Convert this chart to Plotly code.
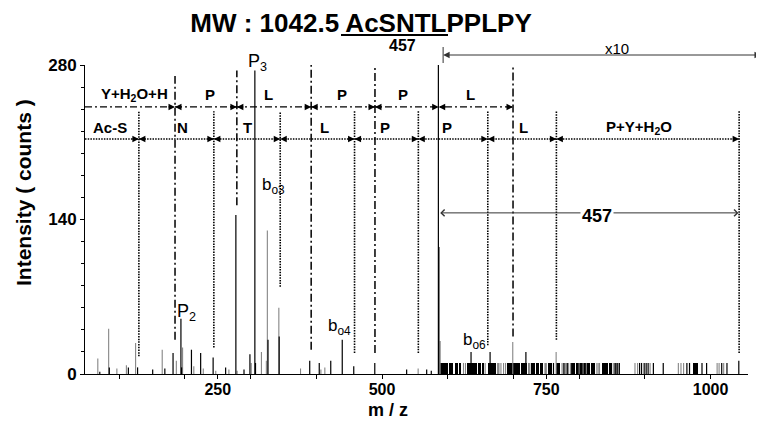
import plotly.graph_objects as go

# ---------------- data ----------------
# main-scale peaks: m/z and intensity (counts)
black_mz = [70.5, 85, 114, 128, 151, 169.5, 182, 194, 195, 210, 224, 243, 262, 277.6, 290, 299,
            306.5, 307.5, 326.5, 343.5, 390, 404.5, 422, 439.5, 457, 489, 537.5, 568, 575, 585.8, 586.6]
black_int = [2, 6, 6, 6, 4, 5, 19, 50, 6, 22, 19, 15, 6, 144, 4, 18,
             275, 10, 31, 34, 12, 10, 12, 31, 7, 10, 4, 4, 3, 280, 115]
gray_mz = [67.5, 84, 96.5, 111, 125, 165.5, 187, 196.5, 213.6, 228, 247, 267, 279.5, 301, 316.5,
           324, 325.5, 343, 376, 407, 413, 555, 588.5]
gray_int = [14, 41, 5, 8, 28, 22, 12, 24, 7, 5, 3, 4, 3, 10, 20,
            12, 130, 60, 5, 4, 6, 5, 30]

# x10 region (m/z > 586): isolated lines
x10_black_mz = [635.5, 664.5, 719, 761, 777, 855, 858, 892, 895, 899, 902, 905, 913, 928, 964, 968,
                987, 994, 1017, 1025, 1043]
x10_black_int = [20, 20, 20, 10, 10, 10, 10, 10, 10, 10, 10, 10, 10, 10, 10, 10,
                 10, 10, 10, 10, 12]
x10_gray_mz = [624, 627, 657, 676, 677, 678, 681, 685, 688, 699, 723, 724, 725, 748, 749, 750, 765,
               774, 776, 779, 781, 784, 787, 800, 806, 811, 827, 829, 831, 852, 854, 857, 860, 885,
               889, 908, 951, 955, 959, 1010, 1013, 1020]
x10_gray_int = [10, 10, 10, 10, 10, 10, 10, 10, 10, 29, 10, 10, 10, 10, 10, 10, 20,
                10, 10, 10, 10, 10, 10, 10, 10, 10, 10, 10, 10, 10, 10, 10, 10, 10,
                10, 10, 10, 10, 10, 10, 10, 10]
# x10 region: unresolved clusters of lines (m/z start, m/z end, height)
cluster_start = [589, 603, 611, 617, 630, 641, 647, 653, 662, 691, 712, 718, 728, 736, 741, 753,
                 765, 782, 788, 796, 819, 835, 847, 861, 974]
cluster_end = [600, 608, 615, 620, 639, 644, 650, 655, 673, 710, 715, 720, 733, 738, 744, 758,
               771, 783, 793, 816, 824, 844, 849, 862, 981]
cluster_int = [10, 10, 10, 10, 10, 10, 10, 10, 10, 10, 10, 10, 10, 10, 10, 10,
               10, 10, 10, 10, 10, 10, 10, 10, 10]

# y-ion ladder (dash-dot) and b-ion ladder (dotted)
y_bounds = [185, 279.1, 392.2, 489.3, 586.3, 699.4]
y_residues = ["Y+H<sub>2</sub>O+H", "P", "L", "P", "P", "L"]
y_vline_mz = [185, 279.1, 392.2, 489.3, 699.4]
y_vline_top = [270, 275, 282, 282, 280]
y_vline_bottom = [31, 153, 22, 19, 34]

b_bounds = [130.0, 244.1, 345.1, 458.2, 555.3, 661, 765.4, 1043.5]
b_residues = ["Ac-S", "N", "T", "L", "P", "P", "L", "P+Y+H<sub>2</sub>O"]
b_vline_top = [238, 238, 238, 238, 238, 238, 238, 238]
b_vline_bottom = [16, 24, 79, 19, 19, 26, 31, 19]

peak_labels = ["P<sub>2</sub>", "P<sub>3</sub>", "b<sub>o3</sub>", "b<sub>o4</sub>", "b<sub>o6</sub>"]
peak_label_mz = [202, 311, 335, 436, 640]
peak_label_int = [56, 280, 170, 43, 30]

precursor_mz = 1042.5
fragment_mz = 586.3      # 1042.5 - 457
x10_start_mz = 593
x10_end_mz = 1079

x_tickvals = [250, 500, 750, 1000]
y_tickvals = [0, 140, 280]

# ---------------- layout constants ----------------
FONT = "Arial, Liberation Sans, Helvetica, sans-serif"
OFF = 8                      # page body margin of the html page
W, H = 764 - OFF, 421 - OFF  # figure size inside the page
L, T = 85 - OFF, 65 - OFF
R, B = 16, 47
PW, PH = W - L - R, H - T - B
X_RANGE = [48, 1057]
Y_RANGE = [0, 280]
ROW_Y = 242      # y-ion ladder row
ROW_B = 213      # b-ion ladder row


def paper_x(px):
    """window pixel -> paper fraction"""
    return (px - OFF - L) / PW


def paper_y(py):
    return (H - B - (py - OFF)) / PH


def sticks(mz, inten):
    xs, ys = [], []
    for m, v in zip(mz, inten):
        xs += [m, m, None]
        ys += [0, v, None]
    return xs, ys


def vlines(mz, top, bottom):
    xs, ys = [], []
    for m, t, b in zip(mz, top, bottom):
        xs += [m, m, None]
        ys += [b, t, None]
    return xs, ys


fig = go.Figure()

# clusters of unresolved lines
fig.add_trace(go.Bar(
    x=[(s + e) / 2 for s, e in zip(cluster_start, cluster_end)],
    y=cluster_int,
    width=[e - s + 1 for s, e in zip(cluster_start, cluster_end)],
    marker=dict(color="black", line=dict(width=0)),
    showlegend=False, hoverinfo="skip"))

gx, gy = sticks(gray_mz + x10_gray_mz, gray_int + x10_gray_int)
fig.add_trace(go.Scatter(x=gx, y=gy, mode="lines", line=dict(color="#858585", width=1.1),
                         showlegend=False, hoverinfo="skip"))
bx, by = sticks(black_mz + x10_black_mz, black_int + x10_black_int)
fig.add_trace(go.Scatter(x=bx, y=by, mode="lines", line=dict(color="black", width=1.2),
                         showlegend=False, hoverinfo="skip"))

# ladder rows
fig.add_trace(go.Scatter(x=[X_RANGE[0], y_bounds[-1]], y=[ROW_Y, ROW_Y], mode="lines",
                         line=dict(color="black", width=1.2, dash="7px,3px,2px,3px"),
                         showlegend=False, hoverinfo="skip"))
fig.add_trace(go.Scatter(x=[X_RANGE[0], b_bounds[-1]], y=[ROW_B, ROW_B], mode="lines",
                         line=dict(color="black", width=1.5, dash="1.5px,1.2px"),
                         showlegend=False, hoverinfo="skip"))
vx, vy = vlines(y_vline_mz, y_vline_top, y_vline_bottom)
fig.add_trace(go.Scatter(x=vx, y=vy, mode="lines",
                         line=dict(color="black", width=1.5, dash="8px,3px,2px,3px"),
                         showlegend=False, hoverinfo="skip"))
vx, vy = vlines(b_bounds, b_vline_top, b_vline_bottom)
fig.add_trace(go.Scatter(x=vx, y=vy, mode="lines",
                         line=dict(color="black", width=1.6, dash="1.5px,1.2px"),
                         showlegend=False, hoverinfo="skip"))

ann = []


def tip(x, y, right):
    return dict(x=x, y=y, xref="x", yref="y", text="", showarrow=True, arrowhead=2,
                arrowsize=1.3, arrowwidth=1, arrowcolor="black",
                ax=-8 if right else 8, ay=0, standoff=0)


for i, bnd in enumerate(y_bounds):
    ann.append(tip(bnd, ROW_Y, True))
    if i < len(y_bounds) - 1:
        ann.append(tip(bnd, ROW_Y, False))
for i, bnd in enumerate(b_bounds):
    ann.append(tip(bnd, ROW_B, True))
    if i < len(b_bounds) - 1:
        ann.append(tip(bnd, ROW_B, False))

y_label_mz = [124, 238, 328, 439, 532, 634]
b_label_mz = [86, 197, 296, 413, 505, 599, 715, 891]
for t, m in zip(y_residues, y_label_mz):
    ann.append(dict(x=m, y=253, text=t, showarrow=False, xanchor="center", yanchor="middle",
                    font=dict(family=FONT, size=15, color="black", weight="bold")))
for t, m in zip(b_residues, b_label_mz):
    ann.append(dict(x=m, y=223, text=t, showarrow=False, xanchor="center", yanchor="middle",
                    font=dict(family=FONT, size=15, color="black", weight="bold")))

for t, m, v in zip(peak_labels, peak_label_mz, peak_label_int):
    ann.append(dict(x=m, y=v, text=t, showarrow=False, xanchor="center", yanchor="middle",
                    yshift=3 if v >= 280 else 0,
                    font=dict(family=FONT, size=18 if t.startswith("P") else 17, color="black")))

# 457 neutral-loss arrow
ann.append(dict(x=precursor_mz, y=146, xref="x", yref="y", ax=fragment_mz, ay=146,
                axref="x", ayref="y", text="", showarrow=True, arrowside="end+start",
                arrowhead=4, startarrowhead=4, arrowsize=1.3, startarrowsize=1.3,
                arrowwidth=1, arrowcolor="#333333", standoff=0, startstandoff=0))
ann.append(dict(x=827, y=143, text="<b>457</b>", showarrow=False, bgcolor="white",
                xanchor="center", yanchor="middle",
                font=dict(family=FONT, size=18, color="black")))

# x10 region marker
ann.append(dict(x=x10_start_mz, y=paper_y(55), xref="x", yref="paper", ax=x10_end_mz, axref="x",
                ay=0, ayref="pixel", text="", showarrow=True, arrowside="end+start",
                arrowhead=2, startarrowhead=2, arrowsize=1.3, startarrowsize=1.3,
                arrowwidth=1, arrowcolor="#333333", standoff=0, startstandoff=0))
ann.append(dict(x=paper_x(617), y=paper_y(48), xref="paper", yref="paper", text="x10",
                xanchor="center", yanchor="middle",
                showarrow=False, font=dict(family=FONT, size=15, color="black")))

# 457 below title
ann.append(dict(x=paper_x(402), y=paper_y(46), xref="paper", yref="paper", text="<b>457</b>",
                xanchor="center", yanchor="middle",
                showarrow=False, font=dict(family=FONT, size=16, color="black")))

# axis titles
ann.append(dict(x=paper_x(388), y=paper_y(410), xref="paper", yref="paper", text="<b>m / z</b>",
                xanchor="center", yanchor="middle",
                showarrow=False, font=dict(family=FONT, size=18, color="black")))
ann.append(dict(x=paper_x(23), y=paper_y(193), xref="paper", yref="paper",
                text="<b>Intensity ( counts )</b>", textangle=-90,
                xanchor="center", yanchor="middle",
                showarrow=False, font=dict(family=FONT, size=21, color="black")))

shapes = [
    # x10 start bar
    dict(type="line", xref="x", yref="paper", x0=x10_start_mz, x1=x10_start_mz,
         y0=paper_y(63), y1=paper_y(47), line=dict(color="#333333", width=1)),
    # underline of the AcSNTL (457) fragment in the title
    dict(type="line", xref="paper", yref="paper", x0=paper_x(341), x1=paper_x(448),
         y0=paper_y(35), y1=paper_y(35), line=dict(color="black", width=2)),
]

fig.update_layout(
    width=W, height=H,
    margin=dict(l=L, r=R, t=T, b=B),
    paper_bgcolor="white", plot_bgcolor="white",
    showlegend=False, bargap=0,
    title=dict(text="<b>MW : 1042.5 AcSNTLPPLPY</b>",
               x=(361 - OFF) / W, xanchor="center", y=1 - (23 - OFF) / H, yanchor="middle",
               font=dict(family=FONT, size=26, color="black")),
    annotations=ann, shapes=shapes,
    xaxis=dict(range=X_RANGE, showgrid=False, zeroline=False, showline=True, linecolor="black",
               linewidth=1, tickvals=x_tickvals, ticks="outside", ticklen=4, tickcolor="black",
               ticklabelstandoff=-3,
               tickfont=dict(family=FONT, size=16, color="black", weight="bold"),
               minor=dict(dtick=100, tick0=0, ticks="outside", ticklen=4, tickcolor="black")),
    yaxis=dict(range=Y_RANGE, showgrid=False, zeroline=False, showline=True, linecolor="black",
               linewidth=1, tickvals=y_tickvals, ticks="outside", ticklen=4, tickcolor="black",
               tickfont=dict(family=FONT, size=17, color="black", weight="bold"),
               minor=dict(dtick=20, tick0=0, ticks="outside", ticklen=3, tickcolor="black")),
)

fig.write_html("out.html")
